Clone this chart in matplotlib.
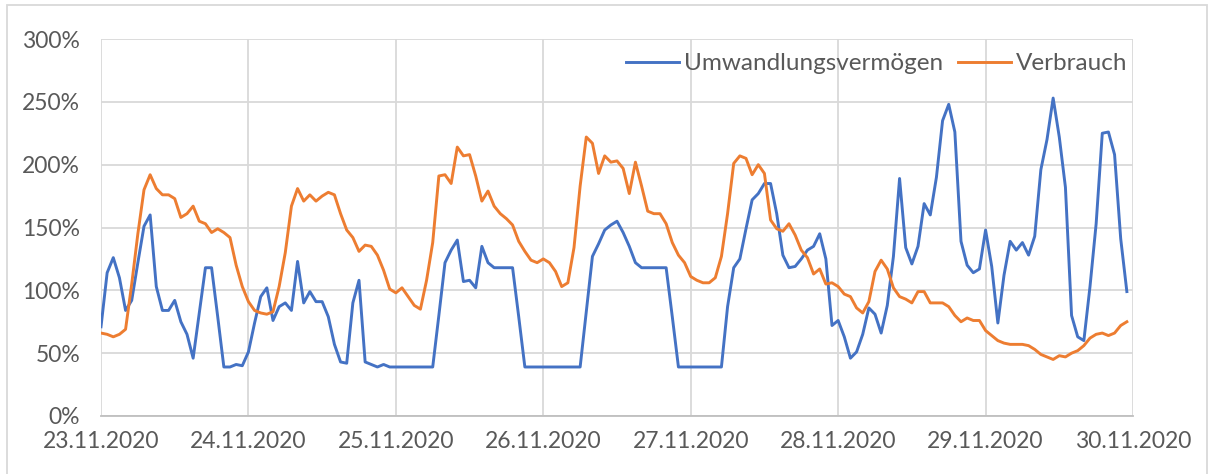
import numpy as np
import matplotlib.pyplot as plt
from matplotlib.patches import Rectangle
from matplotlib.ticker import PercentFormatter

# ===============================
# Data (hourly values, % )
# ===============================
day_labels = ["23.11.2020", "24.11.2020", "25.11.2020", "26.11.2020",
              "27.11.2020", "28.11.2020", "29.11.2020", "30.11.2020"]

umwandlung = [
    71, 114, 126, 110, 84, 92, 122, 151, 160, 103, 84, 84, 92, 75, 65, 46, 82, 118, 118, 79, 39, 39, 41, 40,
    51, 74, 95, 102, 76, 87, 90, 84, 123, 90, 99, 91, 91, 79, 57, 43, 42, 90, 108, 43, 41, 39, 41, 39,
    39, 39, 39, 39, 39, 39, 39, 80, 122, 132, 140, 107, 108, 102, 135, 122, 118, 118, 118, 118, 79, 39, 39, 39,
    39, 39, 39, 39, 39, 39, 39, 83, 127, 137, 148, 152, 155, 146, 135, 122, 118, 118, 118, 118, 118, 79, 39, 39,
    39, 39, 39, 39, 39, 39, 87, 118, 125, 149, 172, 177, 185, 185, 161, 128, 118, 119, 125, 132, 135, 145, 125, 72,
    76, 63, 46, 51, 65, 86, 81, 66, 88, 127, 189, 134, 121, 135, 169, 160, 190, 235, 248, 226, 139, 120, 114, 117,
    148, 119, 74, 112, 139, 132, 138, 128, 143, 196, 220, 253, 222, 182, 80, 63, 60, 103, 153, 225, 226, 208, 141, 99,
]

verbrauch = [
    66, 65, 63, 65, 69, 105, 145, 180, 192, 181, 176, 176, 173, 158, 161, 167, 155, 153, 146, 149, 146, 142, 120, 103,
    91, 84, 82, 81, 83, 103, 130, 167, 181, 171, 176, 171, 175, 178, 176, 161, 148, 142, 131, 136, 135, 128, 116, 101,
    98, 102, 95, 88, 85, 108, 138, 191, 192, 185, 214, 207, 208, 191, 171, 179, 167, 161, 157, 152, 139, 131, 124, 122,
    125, 122, 115, 103, 106, 134, 183, 222, 217, 193, 207, 202, 203, 197, 177, 202, 183, 163, 161, 161, 153, 138, 128, 122,
    111, 108, 106, 106, 110, 127, 161, 201, 207, 205, 192, 200, 193, 156, 149, 147, 153, 144, 132, 126, 113, 117, 105, 106,
    103, 97, 95, 86, 82, 91, 115, 124, 117, 102, 95, 93, 90, 99, 99, 90, 90, 90, 87, 80, 75, 78, 76, 76,
    68, 64, 60, 58, 57, 57, 57, 56, 53, 49, 47, 45, 48, 47, 50, 52, 56, 62, 65, 66, 64, 66, 72, 75,
]

hours = np.arange(len(umwandlung))

# ===============================
# Style
# ===============================
plt.rcParams["font.family"] = ["Lato", "DejaVu Sans"]
TEXT_COLOR = "#595959"
GRID_COLOR = "#d9d9d9"

fig = plt.figure(figsize=(12.16, 4.74), dpi=100)
ax = fig.add_axes([101 / 1216, 1 - 416 / 474, 1032 / 1216, 377 / 474])

ax.plot(hours, umwandlung, color="#4472C4", linewidth=2.1, label="Umwandlungsvermögen")
ax.plot(hours, verbrauch, color="#ED7D31", linewidth=2.1, label="Verbrauch")

ax.set_xlim(0, 168)
ax.set_ylim(0, 300)
ax.set_xticks(np.arange(0, 169, 24))
ax.set_xticklabels(day_labels)
ax.set_yticks(np.arange(0, 301, 50))
ax.yaxis.set_major_formatter(PercentFormatter(decimals=0))

ax.tick_params(axis="both", length=0, labelsize=16.5, labelcolor=TEXT_COLOR)
ax.tick_params(axis="y", pad=15)
ax.tick_params(axis="x", pad=11)

ax.grid(True, color=GRID_COLOR, linewidth=1.3)
ax.set_axisbelow(True)
for side in ["top", "right", "left"]:
    ax.spines[side].set_visible(False)
ax.spines["bottom"].set_color("#bfbfbf")
ax.spines["bottom"].set_linewidth(1.3)

leg = ax.legend(loc="upper right", bbox_to_anchor=(1.004, 0.988), ncol=2, frameon=False,
                fontsize=17.5, handlelength=2.2, handletextpad=0.2, columnspacing=0.6,
                borderaxespad=0.2, borderpad=0.2)
for t in leg.get_texts():
    t.set_color(TEXT_COLOR)

# outer chart frame
fig.patches.append(Rectangle((7 / 1216, -0.01), 1200 / 1216, 1.0, transform=fig.transFigure,
                             fill=False, edgecolor=GRID_COLOR, linewidth=1.3))

fig.savefig("out.png", dpi=100)
